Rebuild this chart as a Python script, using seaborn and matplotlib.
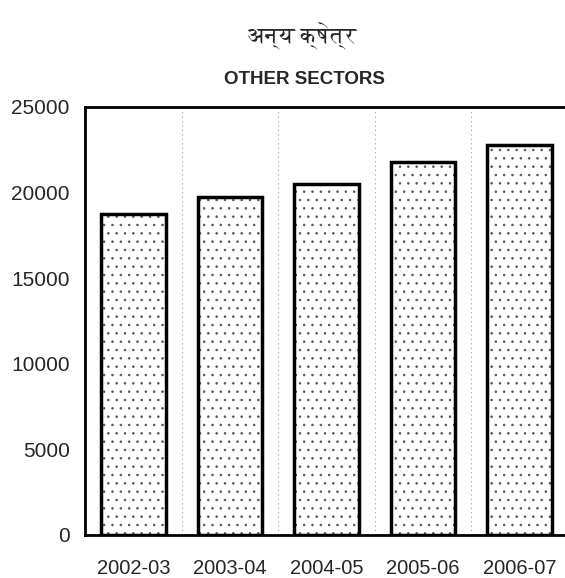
import matplotlib
matplotlib.use("Agg")
import matplotlib.pyplot as plt
from matplotlib.patches import Rectangle
import seaborn as sns
import pandas as pd

years = ["2002-03", "2003-04", "2004-05", "2005-06", "2006-07"]
values = [18750, 19740, 20500, 21800, 22800]
yticks = [0, 5000, 10000, 15000, 20000, 25000]
title_hi = "अन्य क्षेत्र"
title_en = "OTHER SECTORS"

sns.set_style("white")
plt.rcParams["font.family"] = ["Liberation Sans", "DejaVu Sans"]
plt.rcParams["hatch.linewidth"] = 0.6

df = pd.DataFrame({"year": years, "value": values})

fig = plt.figure(figsize=(5.65, 5.78), dpi=100)
ax = fig.add_axes([85 / 565, 43 / 578, 483 / 565, 428 / 578])

sns.barplot(data=df, x="year", y="value", color="white", edgecolor="#666666",
            linewidth=0, width=0.67, ax=ax, saturation=1)
bars = list(ax.patches)
for p in bars:
    p.set_hatch("..")
    p.set_edgecolor("#555555")
    p.set_linewidth(0)
    outline = Rectangle(p.get_xy(), p.get_width(), p.get_height(), fill=False,
                        edgecolor="black", linewidth=2.5, zorder=p.get_zorder() + 0.1)
    ax.add_patch(outline)

ax.set_xlim(-0.5, 4.5)
ax.set_ylim(0, 25000)
ax.set_yticks(yticks)
ax.set_yticklabels([str(v) for v in yticks], fontsize=15)
ax.set_xticks(range(len(years)))
ax.set_xticklabels(years, fontsize=14.5)
ax.set_xlabel("")
ax.set_ylabel("")
ax.set_xticks([0.5, 1.5, 2.5, 3.5], minor=True)
ax.grid(False)
ax.grid(True, which="minor", axis="x", linestyle=(0, (1, 3)), color="#999999", linewidth=0.8)
ax.set_axisbelow(True)
ax.tick_params(axis="y", length=3, width=1, pad=8, color="black")
ax.tick_params(axis="x", which="major", length=0, pad=17)
ax.tick_params(axis="x", which="minor", length=3, width=0.8, color="#777777")

for side in ("left", "top", "bottom", "right"):
    ax.spines[side].set_visible(True)
    ax.spines[side].set_color("black")
    ax.spines[side].set_linewidth(2)

fig.text(304 / 565, 1 - 80 / 578, title_en, ha="center", va="center",
         fontsize=13.5, fontweight="bold")
fig.text(302 / 565, 1 - 36 / 578, title_hi, ha="center", va="center",
         fontsize=16, family=["FreeSerif", "Lohit Devanagari", "DejaVu Sans"])

fig.savefig("out.png", dpi=100)
